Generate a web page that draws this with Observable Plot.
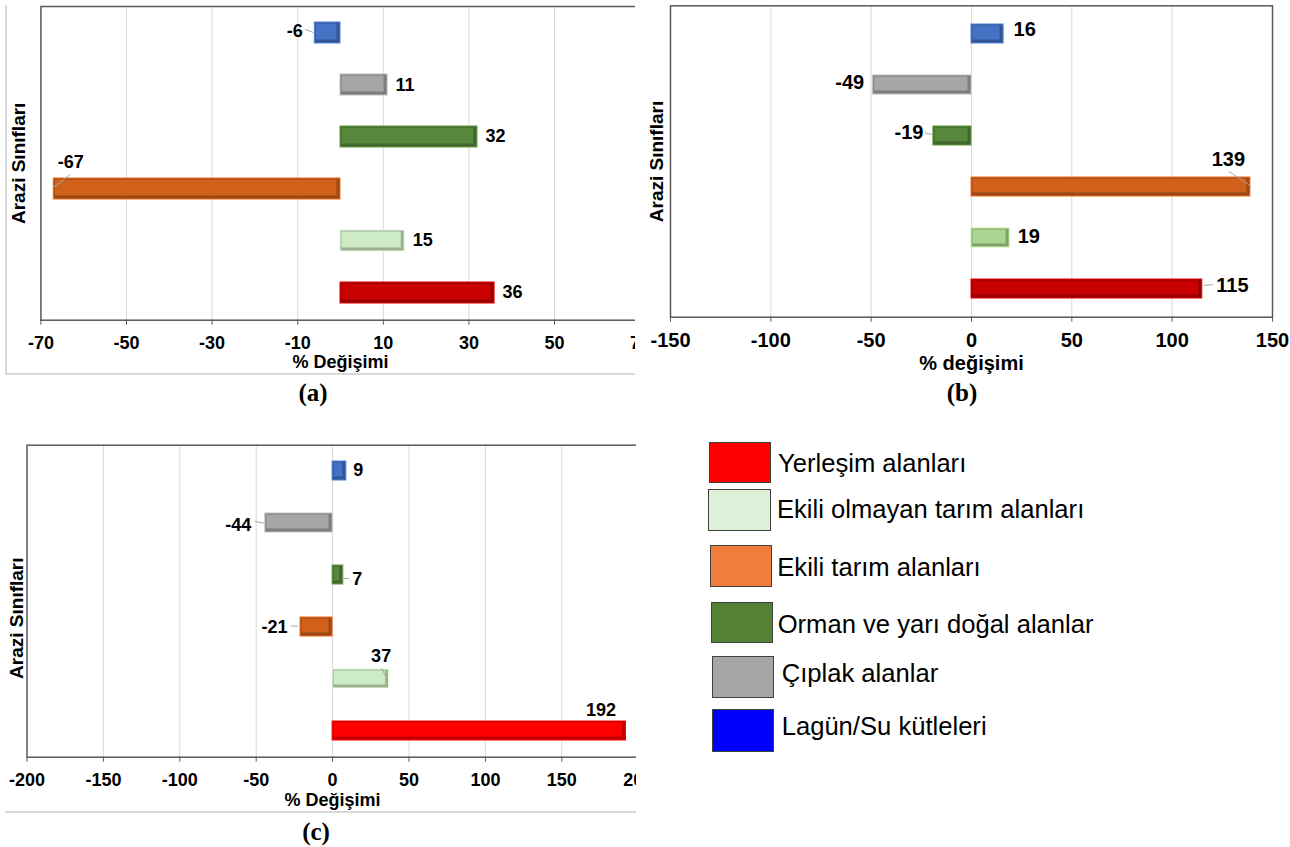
<!DOCTYPE html>
<html><head><meta charset="utf-8">
<script src="https://cdn.jsdelivr.net/npm/d3@7"></script>
<script src="https://cdn.jsdelivr.net/npm/@observablehq/plot@0.6"></script>
<style>
body{margin:0;background:#fff;font-family:"Liberation Sans",Arial,sans-serif;}
#page{position:relative;width:1290px;height:847px;overflow:hidden;background:#fff}
.clip{position:absolute;overflow:hidden}
.line{position:absolute;pointer-events:none;background:#d9d9d9}
.cap{position:absolute;font-family:"Liberation Serif","Times New Roman",serif;font-weight:bold;font-size:25px;line-height:25px;transform:translate(-50%,-50%);white-space:nowrap}
.sw{position:absolute;box-sizing:border-box;border:1.5px solid #404040}
.lt{position:absolute;font-size:25.6px;line-height:25.6px;color:#000;white-space:nowrap}
</style></head><body><div id="page"></div>
<script>
// ---- data ----
const categories = ["Lagün/Su kütleleri","Çıplak alanlar","Orman ve yarı doğal alanlar","Ekili tarım alanları","Ekili olmayan tarım alanları","Yerleşim alanları"];
const valuesA = [-6, 11, 32, -67, 15, 36];
const valuesB = [16, -49, -19, 139, 19, 115];
const valuesC = [9, -44, 7, -21, 37, 192];
const ticksA = [-70, -50, -30, -10, 10, 30, 50, 70];
const ticksB = [-150, -100, -50, 0, 50, 100, 150];
const ticksC = [-200, -150, -100, -50, 0, 50, 100, 150, 200];
const legendLabels = ["Yerleşim alanları","Ekili olmayan tarım alanları","Ekili tarım alanları","Orman ve yarı doğal alanlar","Çıplak alanlar","Lagün/Su kütleleri"];
const captions = ["(a)", "(b)", "(c)"];

// ---- styles ----
const baseColors = {"Lagün/Su kütleleri":"#4472C4","Çıplak alanlar":"#A6A6A6","Orman ve yarı doğal alanlar":"#56873A","Ekili tarım alanları":"#D0601A","Ekili olmayan tarım alanları":"#CDEBC5","Yerleşim alanları":"#C80000"};
const colorsA = {...baseColors};
const colorsB = {...baseColors, "Ekili olmayan tarım alanları":"#AAD590"};
const colorsC = {...baseColors, "Yerleşim alanları":"#FF0000"};
const legendColors = ["#FF0000","#DDF0D8","#F07D3A","#548235","#A6A6A6","#0000FF"];
const FONT = '"Liberation Sans", Arial, sans-serif';

const page = document.getElementById("page");

function panel(cfg) {
  const data = categories.map((cat, i) => ({cat, value: cfg.values[i]}));
  const fs = cfg.fontSize;
  const marks = [
    Plot.gridX(cfg.ticks.slice(1, -1), {stroke: "#d9d9d9", strokeOpacity: 1, strokeWidth: 1}),
    Plot.barX(data, {y: "cat", x1: d => 0, x2: "value",
      fill: d => d3.color(cfg.colors[d.cat]).darker(0.8).formatHex(),
      stroke: d => d3.color(cfg.colors[d.cat]).brighter(0.4).formatHex(), strokeWidth: 1}),
    Plot.barX(data, {y: "cat", x1: d => 0, x2: "value",
      fill: d => cfg.colors[d.cat], insetTop: 1.5, insetLeft: 1.5, insetRight: 3.5, insetBottom: 3.5}),
    Plot.frame({stroke: "#595959", strokeWidth: 1.5}),
    Plot.axisX({ticks: cfg.ticks, tickFormat: d => String(d), tickSize: 5, tickPadding: 10.8,
      fontSize: fs, fontWeight: "bold", fill: "#000", stroke: "#595959", label: null}),
    Plot.text([cfg.xTitle], {text: d => d, frameAnchor: "bottom", dy: cfg.xTitleDy, lineAnchor: "middle",
      fontSize: fs, fontWeight: "bold", fill: "#000"}),
    Plot.text(["Arazi Sınıfları"], {text: d => d, frameAnchor: "left", rotate: -90, dx: cfg.yTitleDx, dy: cfg.yTitleDy || 0,
      textAnchor: "middle", lineAnchor: "middle", fontSize: 19, fontWeight: "bold", fill: "#000"})
  ];
  data.forEach(d => {
    const p = cfg.labels[d.cat] || {};
    marks.push(Plot.text([d], {x: "value", y: "cat", text: e => String(e.value),
      textAnchor: p.above ? "middle" : (d.value < 0 ? "end" : "start"),
      dx: p.dx ?? (d.value < 0 ? -9 : 8), dy: p.dy ?? -1, lineAnchor: "middle",
      fontSize: fs, fontWeight: "bold", fill: "#000"}));
  });
  const svg = Plot.plot({
    width: cfg.width, height: cfg.height,
    marginLeft: cfg.mL, marginRight: cfg.mR, marginTop: cfg.mT, marginBottom: cfg.mB,
    style: `font-family:${FONT};font-weight:bold;background:transparent;max-width:none;`,
    x: {domain: cfg.domain},
    y: {domain: categories, paddingInner: cfg.pad, paddingOuter: cfg.pad / 2, axis: null},
    color: {type: "identity"},
    marks
  });
  try {
    const xs = svg.scale("x"), ys = svg.scale("y");
    const g = d3.select(svg).append("g").attr("stroke", "#a6a6a6").attr("stroke-width", 1);
    data.forEach(d => {
      const L = cfg.leaders[d.cat]; if (!L) return;
      const x0 = xs.apply(d.value), y0 = ys.apply(d.cat) + ys.bandwidth / 2;
      g.append("line").attr("x1", x0 + L[0]).attr("y1", y0 + L[1]).attr("x2", x0 + L[2]).attr("y2", y0 + L[3]);
    });
  } catch (e) {}
  const clip = document.createElement("div");
  clip.className = "clip";
  Object.assign(clip.style, {left: cfg.left + "px", top: cfg.top + "px", width: cfg.clipW + "px", height: cfg.height + "px"});
  clip.appendChild(svg);
  page.appendChild(clip);
}

panel({values: valuesA, ticks: ticksA, domain: [-70, 70], colors: colorsA, fontSize: 18,
  left: 0, top: 0, width: 640, height: 400, clipW: 635, mL: 40.4, mR: 0.4, mT: 6, mB: 80.3, pad: 0.59,
  xTitle: "% Değişimi", xTitleDy: 42, yTitleDx: -22,
  labels: {"Lagün/Su kütleleri": {dx: -12, dy: -2}, "Ekili tarım alanları": {above: true, dx: 17, dy: -27}, "Çıplak alanlar": {dy: 0}},
  leaders: {"Lagün/Su kütleleri": [-9, -3, -1, 0], "Ekili tarım alanları": [17, -14, 0, -1]}});

panel({values: valuesB, ticks: ticksB, domain: [-150, 150], colors: colorsB, fontSize: 20,
  left: 640, top: 0, width: 650, height: 400, clipW: 650, mL: 30, mR: 18, mT: 5.3, mB: 83.3, pad: 0.635,
  xTitle: "% değişimi", xTitleDy: 46, yTitleDx: -13.3,
  labels: {"Lagün/Su kütleleri": {dx: 10, dy: -4}, "Çıplak alanlar": {dy: -2}, "Orman ve yarı doğal alanlar": {dx: -10, dy: -3},
    "Ekili tarım alanları": {above: true, dx: -22, dy: -27}, "Yerleşim alanları": {dx: 14, dy: -3}},
  leaders: {"Orman ve yarı doğal alanlar": [-8, -2.5, -1, -1], "Ekili tarım alanları": [-21, -15, 0, -1], "Yerleşim alanları": [2, -3, 11, -4]}});

panel({values: valuesC, ticks: ticksC, domain: [-200, 200], colors: colorsC, fontSize: 18,
  left: 0, top: 420, width: 640, height: 400, clipW: 636, mL: 26.5, mR: 2.3, mT: 24.7, mB: 63.3, pad: 0.635,
  xTitle: "% Değişimi", xTitleDy: 43, yTitleDx: -10.2, yTitleDy: 17,
  labels: {"Lagün/Su kütleleri": {dx: 7}, "Çıplak alanlar": {dx: -14, dy: 2.5}, "Orman ve yarı doğal alanlar": {dx: 9, dy: 4},
    "Ekili tarım alanları": {dx: -13, dy: 0}, "Ekili olmayan tarım alanları": {above: true, dx: -8, dy: -23},
    "Yerleşim alanları": {above: true, dx: -25, dy: -21}},
  leaders: {"Çıplak alanlar": [-10, -1, -1, 0.5], "Orman ve yarı doğal alanlar": [-1, 4, 6, 4],
    "Ekili tarım alanları": [-9, -0.5, -2, -0.5], "Ekili olmayan tarım alanları": [-7, -10.5, -3, -2]}});

// light outer frames
[[5, 5, 1.5, 369], [5, 373, 630, 1.5], [5, 811, 631, 1.5]].forEach(([l, t, w, h]) => {
  const e = document.createElement("div"); e.className = "line";
  Object.assign(e.style, {left: l + "px", top: t + "px", width: w + "px", height: h + "px"});
  page.appendChild(e);
});

// captions
[[313, 392], [962, 392], [316, 831]].forEach(([x, y], i) => {
  const e = document.createElement("div"); e.className = "cap"; e.textContent = captions[i];
  Object.assign(e.style, {left: x + "px", top: y + "px"});
  page.appendChild(e);
});

// legend
const swPos = [[709, 442, 62, 41], [708, 489, 63, 42], [710, 545, 62, 42], [711, 602, 62, 41], [712, 656, 62, 42], [712, 709, 62, 43]];
const txPos = [[778, 473], [777, 518.3], [777.3, 576.7], [777.7, 633.3], [781.7, 682.3], [781.7, 735.7]];
legendLabels.forEach((lab, i) => {
  const s = document.createElement("div"); s.className = "sw";
  const [l, t, w, h] = swPos[i];
  Object.assign(s.style, {left: l + "px", top: t + "px", width: w + "px", height: h + "px", background: legendColors[i]});
  page.appendChild(s);
  const tx = document.createElement("div"); tx.className = "lt"; tx.textContent = lab;
  Object.assign(tx.style, {left: txPos[i][0] + "px", top: (txPos[i][1] - 21.7) + "px"});
  page.appendChild(tx);
});
</script></body></html>
